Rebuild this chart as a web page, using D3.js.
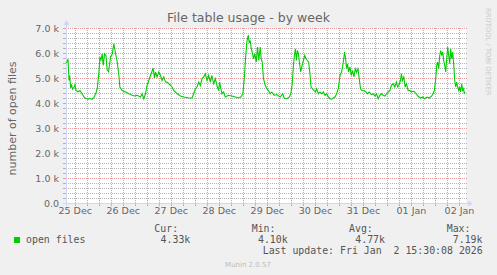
<!DOCTYPE html>
<html>
<head>
<meta charset="utf-8">
<script src="https://cdn.jsdelivr.net/npm/d3@7"></script>
<style>
  html, body { margin: 0; padding: 0; background: #f0f0f0; }
  svg { display: block; }
  text { font-family: "DejaVu Sans", sans-serif; fill: #666; }
  .mono { font-family: "DejaVu Sans Mono", monospace; fill: #555; white-space: pre; }
</style>
</head>
<body>
<svg id="chart" width="497" height="275"></svg>
<script>
// hours since 25 Dec 2025 00:00, one entry per sample
var hours = [7.65,8.30,8.65,9.15,9.50,10.0,10.4,10.9,11.64,12.14,
  12.64,13.63,14.63,15.63,16.62,17.62,18.62,19.61,20.61,21.61,
  22.60,23.25,24.10,24.60,25.10,25.74,26.24,26.94,27.59,28.24,
  28.93,29.93,30.73,31.57,32.42,33.22,34.07,34.56,35.71,37.40,
  39.05,40.69,41.89,43.19,44.88,45.68,46.52,47.37,48.17,49.02,
  49.86,50.51,51.16,51.86,52.35,53.15,54.00,54.85,55.64,56.49,
  57.34,58.13,58.98,59.83,60.63,61.47,62.32,63.12,64.81,66.46,
  68.95,70.59,71.44,72.29,73.09,73.93,74.78,75.58,76.42,77.27,
  78.07,78.92,79.76,80.56,81.41,82.25,83.05,83.90,84.40,85.05,
  85.54,86.39,87.24,88.88,90.53,92.22,93.87,95.01,96.01,96.71,
  97.35,98.00,98.70,99.20,99.70,100.19,100.69,101.34,101.99,102.69,
  103.33,103.98,104.68,105.18,105.68,106.32,107.17,107.97,108.82,109.66,
  110.46,111.66,112.95,114.65,115.94,116.64,117.94,119.28,119.93,120.62,
  121.27,121.77,122.27,122.77,123.27,123.76,124.26,124.91,125.61,126.26,
  126.90,127.60,128.25,128.90,129.60,130.09,130.74,131.59,132.24,132.89,
  133.73,134.58,135.38,136.22,137.07,137.87,138.72,139.56,140.36,141.21,
  142.05,142.85,143.70,144.54,145.34,146.19,146.84,147.34,147.83,148.33,
  148.83,149.53,150.18,150.83,151.52,152.17,152.82,153.52,154.16,154.81,
  155.51,156.51,157.50,158.15,159.15,160.14,161.14,161.99,162.79,163.63,
  164.48,165.28,166.12,166.97,167.77,168.61,169.46,170.26,171.11,171.95,
  172.75,173.35,173.95,174.74,175.24,175.74,176.44,177.09,177.73,178.58,
  179.43,180.22,181.42,182.57,183.42,184.71,185.91,186.71,188.05,189.20,
  190.39,191.04,191.69,192.38,192.88,193.38,193.88,194.38,194.87,195.37,
  195.87,196.37,196.87,197.37,197.86,198.36,198.86,199.36,199.86,200.35,
  200.85,201.35,201.85,202.35,202.85,203.34,203.84,204.34,204.84,205.34,
  205.84,206.33,206.63,206.98];

// open files, in thousands
var openFiles = [5.60,5.67,5.75,4.90,5.10,4.60,4.75,4.55,4.63,4.73,
  4.50,4.45,4.50,4.38,4.24,4.18,4.15,4.18,4.15,4.22,
  4.40,4.57,5.24,5.84,5.70,5.97,5.50,5.97,5.90,5.32,
  5.25,5.85,5.95,6.37,5.97,5.65,5.10,4.64,4.50,4.44,
  4.37,4.31,4.28,4.31,4.24,4.37,4.17,4.37,4.71,4.90,
  5.10,5.24,5.40,5.00,5.24,5.04,5.24,5.10,4.90,5.04,
  4.84,4.84,4.77,4.71,4.64,4.50,4.44,4.37,4.28,4.24,
  4.20,4.20,4.37,4.57,4.64,4.84,4.70,4.97,5.04,5.17,
  4.90,5.10,4.84,5.10,4.77,4.97,4.71,4.50,4.84,4.57,
  4.37,4.44,4.24,4.31,4.28,4.24,4.20,4.24,4.37,4.97,
  5.77,6.44,6.72,6.40,6.50,6.17,6.04,5.77,5.97,5.64,
  6.24,5.70,6.24,5.77,5.64,4.97,4.71,4.57,4.50,4.37,
  4.44,4.31,4.34,4.24,4.37,4.20,4.17,4.24,4.37,4.71,
  5.50,5.90,6.17,5.70,6.10,5.97,5.64,5.24,5.50,5.70,
  5.90,5.77,5.70,5.64,5.10,4.64,4.57,4.50,4.44,4.57,
  4.37,4.44,4.37,4.44,4.31,4.37,4.24,4.17,4.15,4.20,
  4.24,4.37,4.57,5.10,5.24,5.64,6.04,5.77,5.37,5.57,
  5.24,5.44,5.10,5.30,5.04,5.37,5.24,5.37,4.97,4.57,
  4.50,4.50,4.44,4.37,4.44,4.34,4.37,4.28,4.37,4.17,
  4.31,4.37,4.31,4.28,4.37,4.44,4.50,4.71,4.77,4.64,
  4.84,4.64,4.71,4.90,5.17,4.90,5.04,4.64,4.77,4.50,
  4.50,4.44,4.47,4.37,4.28,4.20,4.24,4.17,4.24,4.20,
  4.28,4.37,4.50,4.97,5.50,5.64,5.37,5.90,6.10,5.90,
  6.04,5.70,5.50,5.24,5.77,6.24,5.90,5.57,6.17,5.77,
  6.04,5.57,4.90,4.64,4.84,4.64,4.50,4.64,4.44,4.77,
  4.50,4.57,4.37,4.45];

var dayLabels = ["25 Dec", "26 Dec", "27 Dec", "28 Dec", "29 Dec", "30 Dec", "31 Dec", "01 Jan", "02 Jan"];
var yTicks = [0, 1, 2, 3, 4, 5, 6, 7];
var statLabels = ["Cur:", "Min:", "Avg:", "Max:"];
var statValues = ["4.33k", "4.10k", "4.77k", "7.19k"];

var base = new Date(2025, 11, 25);
var hourToDate = function(h) { return new Date(base.getTime() + h * 3600e3) }

var data = hours.map(function(h, i) { return { t: hourToDate(h), v: openFiles[i] } });

var plotLeft = 66, plotTop = 28, width = 400, height = 175;

var x = d3.scaleTime()
  .domain([new Date(2025, 11, 25, 7, 39), new Date(2026, 0, 2, 15, 30, 8)])
  .range([plotLeft, plotLeft + width]);

var y = d3.scaleLinear()
  .domain([0, 7])
  .range([plotTop + height, plotTop]);

var svg = d3.select("#chart");
var axisColor = "#cfd6f8", minorColor = "#b4b4b4", majorColor = "#e69a9a";
var bottom = plotTop + height;

svg.append("rect")
  .attr("x", plotLeft).attr("y", plotTop)
  .attr("width", width).attr("height", height)
  .attr("fill", "#fff");

var py = function(d) { return Math.round(y(d)) + 0.5 }
var px = function(d) { return Math.round(x(d)) + 0.5 }

// horizontal grid, minor every 0.2k, major every 1k
var minorY = d3.range(1, 36).map(function(i) { return i / 5 }).filter(function(v) { return Math.abs(v - Math.round(v)) > 0.01 });
svg.append("g").selectAll("line").data(minorY).enter().append("line")
  .attr("x1", plotLeft).attr("x2", plotLeft + width + 2)
  .attr("y1", py).attr("y2", py)
  .attr("stroke", minorColor).attr("stroke-dasharray", "1,1");
svg.append("g").selectAll("line").data(minorY).enter().append("line")
  .attr("x1", plotLeft - 3).attr("x2", plotLeft)
  .attr("y1", py).attr("y2", py)
  .attr("stroke", minorColor);
svg.append("g").selectAll("line").data(yTicks.slice(1)).enter().append("line")
  .attr("x1", plotLeft).attr("x2", plotLeft + width + 2)
  .attr("y1", py).attr("y2", py)
  .attr("stroke", majorColor).attr("stroke-dasharray", "1,1");
svg.append("g").selectAll("line").data(yTicks.slice(1)).enter().append("line")
  .attr("x1", plotLeft - 3).attr("x2", plotLeft)
  .attr("y1", py).attr("y2", py)
  .attr("stroke", majorColor);

// vertical grid: 6h minor, midnight major
var sixHours = d3.timeHour.every(6).range(x.domain()[0], x.domain()[1]);
var minorX = sixHours.filter(function(d) { return d.getHours() != 0 });
var majorX = sixHours.filter(function(d) { return d.getHours() == 0 });
svg.append("g").selectAll("line").data(minorX).enter().append("line")
  .attr("x1", px).attr("x2", px)
  .attr("y1", plotTop).attr("y2", bottom)
  .attr("stroke", minorColor).attr("stroke-dasharray", "1,1");
svg.append("g").selectAll("line").data(minorX).enter().append("line")
  .attr("x1", px).attr("x2", px)
  .attr("y1", bottom).attr("y2", bottom + 3)
  .attr("stroke", minorColor);
svg.append("g").selectAll("line").data(majorX).enter().append("line")
  .attr("x1", px).attr("x2", px)
  .attr("y1", plotTop).attr("y2", bottom)
  .attr("stroke", majorColor).attr("stroke-dasharray", "1,1");
svg.append("g").selectAll("line").data(majorX).enter().append("line")
  .attr("x1", px).attr("x2", px)
  .attr("y1", bottom).attr("y2", bottom + 3)
  .attr("stroke", majorColor);

// axis lines with arrows
svg.append("line")
  .attr("x1", plotLeft - 3).attr("x2", plotLeft + width + 3)
  .attr("y1", bottom + 0.5).attr("y2", bottom + 0.5)
  .attr("stroke", axisColor);
svg.append("path")
  .attr("d", "M" + (plotLeft + width + 2) + "," + (bottom - 2.5) + "L" + (plotLeft + width + 7) + "," + (bottom + 0.5) + "L" + (plotLeft + width + 2) + "," + (bottom + 3.5) + "Z")
  .attr("fill", axisColor);
svg.append("line")
  .attr("x1", plotLeft + 0.5).attr("x2", plotLeft + 0.5)
  .attr("y1", bottom + 3).attr("y2", plotTop - 4)
  .attr("stroke", axisColor);
svg.append("path")
  .attr("d", "M" + (plotLeft - 2.5) + "," + (plotTop - 3) + "L" + (plotLeft + 0.5) + "," + (plotTop - 8) + "L" + (plotLeft + 3.5) + "," + (plotTop - 3) + "Z")
  .attr("fill", axisColor);

// data line
var fileLine = d3.line()
  .x(function(d) { return x(d.t) })
  .y(function(d) { return y(d.v) });
svg.append("path")
  .attr("d", fileLine(data))
  .attr("fill", "none")
  .attr("stroke", "#00cc00")
  .attr("stroke-width", 1.1);

// y tick labels
var yAxis = svg.append("g")
  .attr("transform", "translate(" + (plotLeft - 7) + ",0)")
  .call(d3.axisLeft(y).tickValues(yTicks).tickSize(0).tickPadding(0)
    .tickFormat(function(d) { return d == 0 ? "0.0" : d3.format(".1f")(d) + " k" }));
yAxis.select(".domain").remove();
yAxis.selectAll("text").style("font-size", "9.5px").style("font-family", "DejaVu Sans").attr("fill", "#666");

// day labels at noon
var noons = dayLabels.map(function(l, i) { return new Date(2025, 11, 25 + i, 12) });
var xAxis = svg.append("g")
  .attr("transform", "translate(0," + (bottom + 4) + ")")
  .call(d3.axisBottom(x).tickValues(noons).tickSize(0).tickPadding(0)
    .tickFormat(function(d, i) { return dayLabels[i] }));
xAxis.select(".domain").remove();
xAxis.selectAll("text").style("font-size", "9.5px").style("font-family", "DejaVu Sans").attr("fill", "#666");

// title and labels
svg.append("text")
  .attr("x", 248.5).attr("y", 22)
  .style("text-anchor", "middle")
  .style("font-size", "12.5px")
  .text("File table usage - by week");

svg.append("text")
  .attr("transform", "translate(16," + (plotTop + height / 2 + 3) + ") rotate(-90)")
  .style("text-anchor", "middle")
  .style("font-size", "11px")
  .text("number of open files");

svg.append("text")
  .attr("transform", "translate(486,8) rotate(90)")
  .style("font-size", "6.8px")
  .style("fill", "#c8c8c8")
  .text("RRDTOOL / TOBI OETIKER");

// legend
svg.append("rect")
  .attr("x", 14).attr("y", 237)
  .attr("width", 6).attr("height", 6)
  .attr("fill", "#00cc00");
svg.append("text").attr("class", "mono")
  .attr("x", 26).attr("y", 242.6)
  .style("font-size", "9.9px")
  .text("open files");

var statX = [154.3, 251.7, 349, 446.7];
var valueEnd = [190.3, 287.7, 385, 482.5];
svg.append("g").selectAll("text").data(statLabels).enter().append("text")
  .attr("class", "mono")
  .attr("x", function(d, i) { return statX[i] })
  .attr("y", 231.6)
  .style("font-size", "9.9px")
  .text(function(d) { return d });
svg.append("g").selectAll("text").data(statValues).enter().append("text")
  .attr("class", "mono")
  .attr("x", function(d, i) { return valueEnd[i] })
  .attr("y", 242.6)
  .style("text-anchor", "end")
  .style("font-size", "9.9px")
  .text(function(d) { return d });

svg.append("text").attr("class", "mono")
  .attr("x", 482.7).attr("y", 253.8)
  .style("text-anchor", "end")
  .style("font-size", "9.9px")
  .text("Last update: Fri Jan  2 15:30:08 2026");

svg.append("text")
  .attr("x", 248).attr("y", 266.5)
  .style("text-anchor", "middle")
  .style("font-size", "7px")
  .style("fill", "#bbb")
  .text("Munin 2.0.57");
</script>
</body>
</html>
